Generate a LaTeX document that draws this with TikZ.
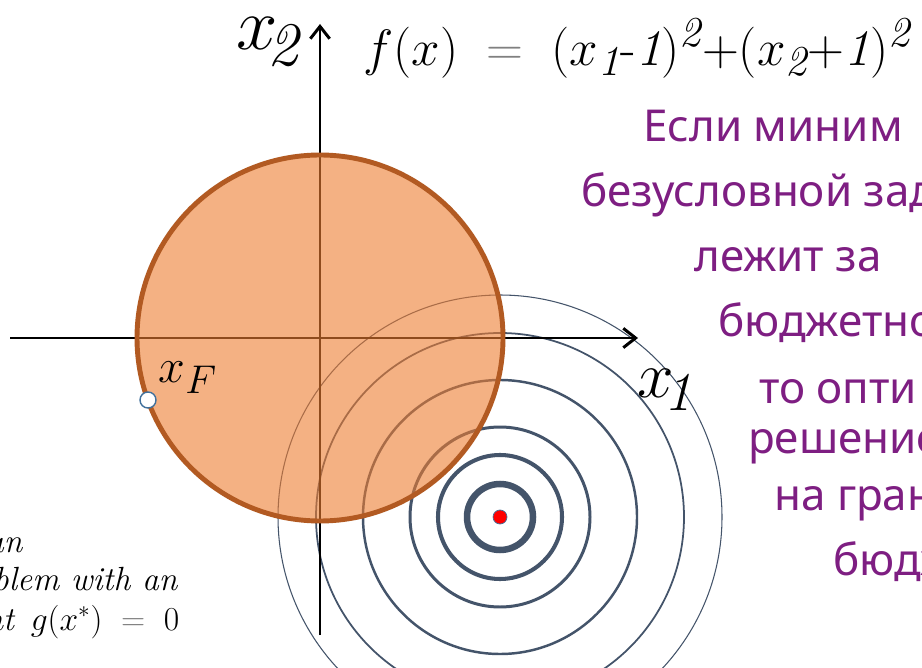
\documentclass[tikz,border=0pt]{standalone}
\usepackage{amsmath}
\usepackage{fontspec}
\newfontfamily\handfont{Noto Sans}
\usetikzlibrary{arrows.meta}
\definecolor{setfill}{RGB}{237,125,49}
\definecolor{setedge}{RGB}{178,90,34}
\definecolor{levelc}{RGB}{68,84,106}
\definecolor{inkpurple}{RGB}{126,30,130}
\definecolor{pointblue}{RGB}{65,113,156}
\newcommand{\one}{\mathit{1}}
\newcommand{\two}{\mathit{2}}

\begin{document}
\begin{tikzpicture}[x=0.02cm,y=-0.02cm,
    level/.style={draw=levelc},
    axis/.style={line width=1.7pt,-{Straight Barb[length=7pt,width=11pt,line width=1.7pt]}},
    hand/.style={inkpurple,anchor=base west,font=\handfont\fontsize{25}{30}\selectfont},
    note/.style={anchor=base east,font=\huge\itshape,scale=0.92}]
    \clip (0,0) rectangle (922,668);
    \fill[white] (0,0) rectangle (922,668);

    % level lines of f
    \coordinate (m) at (500,517);
    \foreach \r/\w in {33/3.7,62/2.3,90/1.7,137/1.4,184/1.0,222/0.6}
        \draw[level,line width=\w pt] (m) circle (\r);

    % axes
    \coordinate (xs) at (10,338);
    \coordinate (xe) at (638,338);
    \coordinate (ys) at (320,635);
    \coordinate (ye) at (320,24);
    \draw[axis] (xs) -- (xe);
    \draw[axis] (ys) -- (ye);

    % budget set
    \coordinate (c) at (320,338);
    \fill[setfill,fill opacity=0.6] (c) circle (183);
    \draw[setedge,line width=2.8pt] (c) circle (183);

    \node[circle,fill=red,draw=pointblue,line width=0.4pt,inner sep=0pt,minimum size=0.28cm] (xstar) at (m) {};
    \node[circle,fill=white,draw=pointblue,line width=0.8pt,inner sep=0pt,minimum size=0.32cm] (xF) at (148,400) {};

    \node[font=\Huge,scale=1.7,inner sep=1pt] (x2) at (268,42) {$x_{\!\two}$};
    \node[font=\Huge,scale=1.5,inner sep=1pt] (x1) at (665,390) {$x_{\!\one}$};
    \node[font=\Huge,scale=1.1] (xFlab) at (188,378) {$x_F$};
    \node[font=\Huge,scale=1.17] (f) at (637,48)
        {$f(x)\;\;\textcolor{gray}{=}\;\;(x_{\one}\text{-}\one)^{\two}{+}(x_{\two}{+}\one)^{\two}$};

    \node[note] (n1) at (28,552) {an};
    \node[note] (n2) at (183,590) {blem with an};
    \node[note] (n3) at (185,630) {nt\enspace $g(x^*)\;\;\textcolor{gray}{=}\;\;0$};

    \node[hand] (h1) at (637,142) {Если миним};
    \node[hand] (h2) at (575,207) {безусловной зад};
    \node[hand] (h3) at (688,272) {лежит за};
    \node[hand] (h4) at (712,337) {бюджетного};
    \node[hand] (h5) at (753,403) {то опти};
    \node[hand] (h6) at (742,453) {решение};
    \node[hand] (h7) at (768,510) {на гран};
    \node[hand] (h8) at (827,575) {бюдж};
\end{tikzpicture}
\end{document}
